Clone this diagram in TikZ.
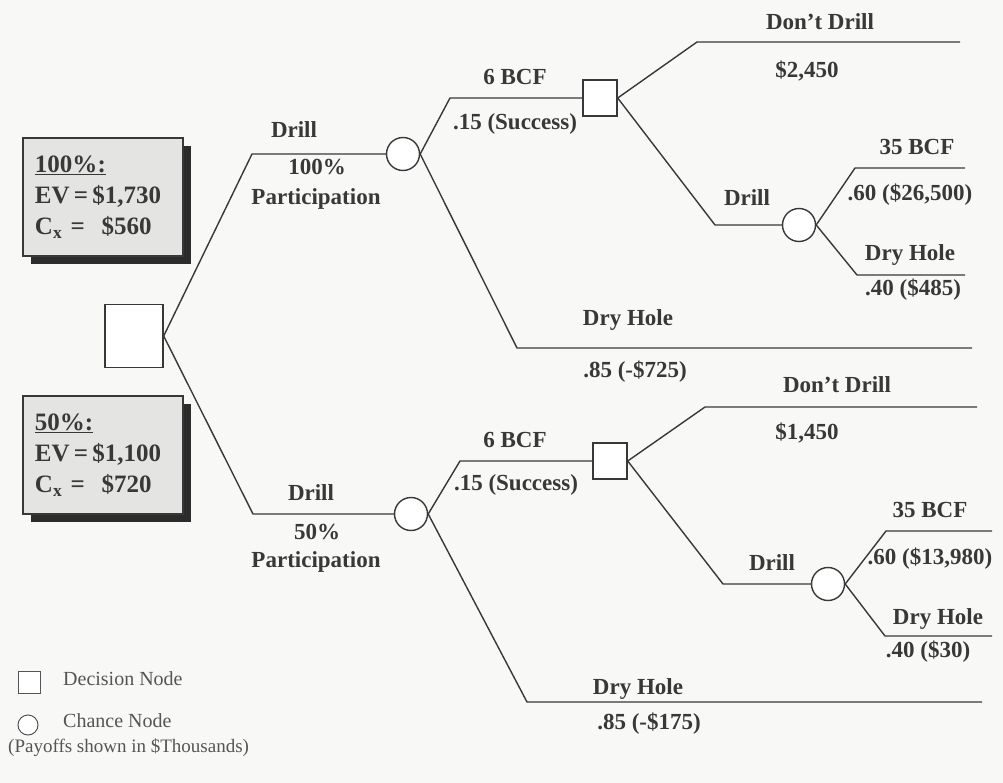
\documentclass[tikz,border=0pt]{standalone}
\usepackage{fontspec}
\setmainfont{Liberation Serif}
\usetikzlibrary{shadows}
\definecolor{ink}{HTML}{383838}
\definecolor{legink}{HTML}{555555}
\definecolor{bg}{HTML}{F8F8F6}
\definecolor{boxfill}{HTML}{E4E4E2}
\definecolor{shadowc}{HTML}{2C2C2C}
\begin{document}
\begin{tikzpicture}[x=1pt,y=-1pt,
  branch/.style={draw=ink, line width=1.4pt, line join=round},
  dnode/.style={draw=ink, line width=1.4pt, fill=white, rectangle, minimum width=34pt, minimum height=36pt, inner sep=0pt},
  cnode/.style={draw=ink, line width=1.4pt, fill=white, circle, minimum size=33pt, inner sep=0pt},
  lbl/.style={text=ink, font=\bfseries\fontsize{23}{26}\selectfont, inner sep=0pt, text height=0.68em, text depth=0.2em},
  legtext/.style={text=legink, font=\fontsize{20}{23}\selectfont, inner sep=0pt, text height=0.68em, text depth=0.2em},
  infobox/.style={draw=ink, line width=1.2pt, fill=boxfill, minimum width=160pt, minimum height=118pt,
    align=left, text width=146pt, inner xsep=7pt, inner ysep=6pt, text=ink,
    font=\bfseries\fontsize{25}{31}\selectfont,
    drop shadow={shadow xshift=8pt, shadow yshift=-8pt, fill=shadowc, opacity=1}}
]
\fill[bg] (0,0) rectangle (1003,783);
\useasboundingbox (0,0) rectangle (1003,783);

% info boxes
\node[infobox] (box100) at (103,197) {\hspace*{5pt}\underline{100\%:}\\\hspace*{5pt}EV\,=\,\$1,730\\\hspace*{5pt}C\textsubscript{x} =\ \ \$560};
\node[infobox] (box50) at (103,455) {\hspace*{5pt}\underline{50\%:}\\\hspace*{5pt}EV\,=\,\$1,100\\\hspace*{5pt}C\textsubscript{x} =\ \ \$720};

% decision / chance nodes
\node[dnode, minimum width=58pt, minimum height=63pt] (root) at (134,336) {};
\node[cnode] (c1) at (403,154) {};
\node[dnode] (d1) at (600,98) {};
\node[cnode] (c2) at (799,225) {};
\node[cnode] (c3) at (411,514) {};
\node[dnode] (d2) at (610,461) {};
\node[cnode] (c4) at (828,584) {};

% bend and end coordinates
\coordinate (a1) at (252,154);
\coordinate (b1) at (450,98);
\coordinate (e1) at (697,42);   \coordinate (e1end) at (960,42);
\coordinate (f1) at (715,225);
\coordinate (g1) at (855,168);  \coordinate (g1end) at (965,168);
\coordinate (h1) at (857,275);  \coordinate (h1end) at (965,275);
\coordinate (k1) at (517,348);  \coordinate (k1end) at (972,348);

\coordinate (a2) at (253,514);
\coordinate (b2) at (460,461);
\coordinate (e2) at (705,407);  \coordinate (e2end) at (977,407);
\coordinate (f2) at (723,584);
\coordinate (g2) at (886,531);  \coordinate (g2end) at (992,531);
\coordinate (h2) at (885,636);  \coordinate (h2end) at (992,636);
\coordinate (k2) at (527,702);  \coordinate (k2end) at (982,702);

% branches, upper tree
\draw[branch] (root.east) -- (a1) -- (c1.west);
\draw[branch] (c1.east) -- (b1) -- (d1.west);
\draw[branch] (c1.east) -- (k1) -- (k1end);
\draw[branch] (d1.east) -- (e1) -- (e1end);
\draw[branch] (d1.east) -- (f1) -- (c2.west);
\draw[branch] (c2.east) -- (g1) -- (g1end);
\draw[branch] (c2.east) -- (h1) -- (h1end);

% branches, lower tree
\draw[branch] (root.east) -- (a2) -- (c3.west);
\draw[branch] (c3.east) -- (b2) -- (d2.west);
\draw[branch] (c3.east) -- (k2) -- (k2end);
\draw[branch] (d2.east) -- (e2) -- (e2end);
\draw[branch] (d2.east) -- (f2) -- (c4.west);
\draw[branch] (c4.east) -- (g2) -- (g2end);
\draw[branch] (c4.east) -- (h2) -- (h2end);

% labels, upper tree
\node[lbl] (l1) at (294,135) {Drill};
\node[lbl] (l2) at (317,172) {100\%};
\node[lbl] (l3) at (316,202) {Participation};
\node[lbl] (l4) at (515,82) {6 BCF};
\node[lbl] (l5) at (515,127) {.15 (Success)};
\node[lbl] (l6) at (820,27) {Don’t Drill};
\node[lbl] (l7) at (807,75) {\$2,450};
\node[lbl] (l8) at (747,203) {Drill};
\node[lbl] (l9) at (917,152) {35 BCF};
\node[lbl] (l10) at (910,198) {.60 (\$26,500)};
\node[lbl] (l11) at (910,258) {Dry Hole};
\node[lbl] (l12) at (913,293) {.40 (\$485)};
\node[lbl] (l13) at (628,323) {Dry Hole};
\node[lbl] (l14) at (635,375) {.85 (-\$725)};

% labels, lower tree
\node[lbl] (m1) at (311,498) {Drill};
\node[lbl] (m2) at (317,537) {50\%};
\node[lbl] (m3) at (316,565) {Participation};
\node[lbl] (m4) at (515,445) {6 BCF};
\node[lbl] (m5) at (516,488) {.15 (Success)};
\node[lbl] (m6) at (837,390) {Don’t Drill};
\node[lbl] (m7) at (807,437) {\$1,450};
\node[lbl] (m8) at (772,568) {Drill};
\node[lbl] (m9) at (930,515) {35 BCF};
\node[lbl] (m10) at (930,562) {.60 (\$13,980)};
\node[lbl] (m11) at (938,622) {Dry Hole};
\node[lbl] (m12) at (928,655) {.40 (\$30)};
\node[lbl] (m13) at (638,692) {Dry Hole};
\node[lbl] (m14) at (649,727) {.85 (-\$175)};

% legend
\node[dnode, minimum width=22pt, minimum height=22pt, line width=1pt, draw=legink] (legd) at (29,682) {};
\node[legtext, anchor=west] (legdt) at (63,683) {Decision Node};
\node[cnode, minimum size=20pt, line width=1pt, draw=legink] (legc) at (28,725) {};
\node[legtext, anchor=west] (legct) at (63,725) {Chance Node};
\node[legtext, anchor=west, font=\fontsize{19}{22}\selectfont] (legp) at (8,750) {(Payoffs shown in \$Thousands)};
\end{tikzpicture}
\end{document}
